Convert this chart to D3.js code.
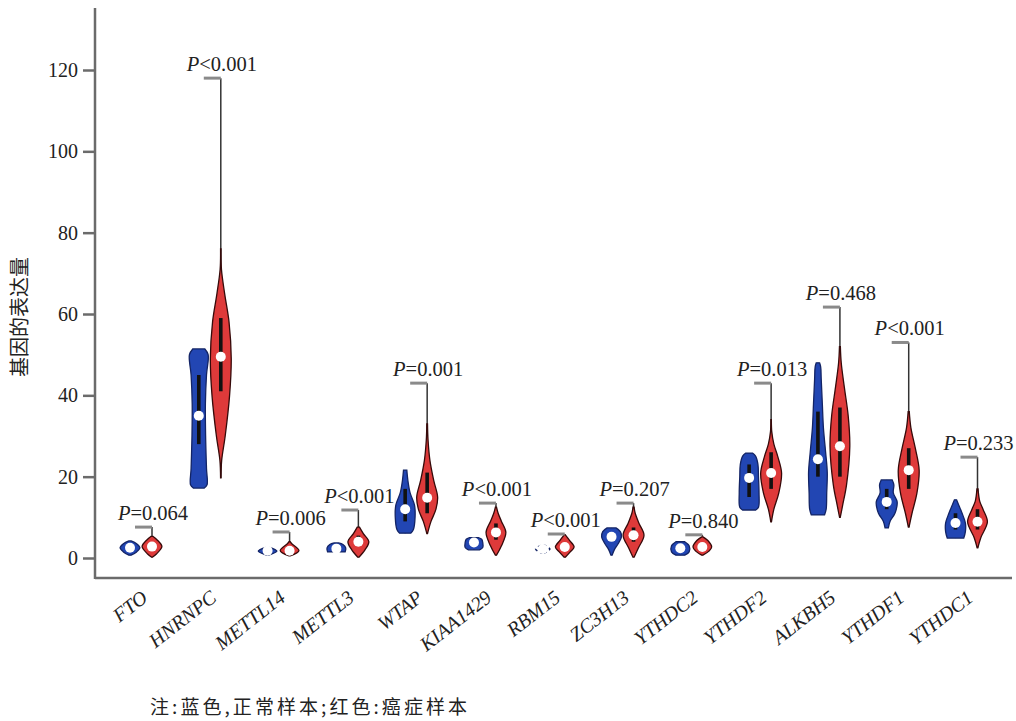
<!DOCTYPE html>
<meta charset="utf-8">
<style>
body { margin: 0; background: #fff; }
.tick text { font-family: "Liberation Serif", serif; font-size: 20px; fill: #222; }
.tick line { stroke: #6b6b6b; stroke-width: 2.5px; }
.gene { font-family: "Liberation Serif", serif; font-style: italic; font-size: 20px; fill: #222; }
.plab { font-family: "Liberation Serif", serif; font-size: 20.5px; fill: #222; }
</style>
<svg width="1016" height="721"></svg>
<script src="https://d3js.org/d3.v7.min.js"></script>
<script>
// genes along the x axis
var genes = ["FTO", "HNRNPC", "METTL14", "METTL3", "WTAP", "KIAA1429", "RBM15",
             "ZC3H13", "YTHDC2", "YTHDF2", "ALKBH5", "YTHDF1", "YTHDC1"];

// P value labels
var pOps    = ["=", "<", "=", "<", "=", "<", "<", "=", "=", "=", "=", "<", "="];
var pValues = ["0.064", "0.001", "0.006", "0.001", "0.001", "0.001", "0.001",
               "0.207", "0.840", "0.013", "0.468", "0.001", "0.233"];

// top of the cancer whisker (where the grey mark sits)
var redMax = [7.6, 118, 6.4, 11.8, 43, 13.5, 5.9, 13.5, 5.7, 43, 61.7, 53, 24.8];

// medians and quartiles: normal (blue) and cancer (red)
var blueMedian = [2.5, 35, 1.8, 2.3, 12, 3.8, 2.2, 5.2, 2.4, 19.7, 24.3, 13.8, 8.6];
var blueQ1     = [2.2, 28, 1.6, 2.1, 9, 3.5, 2, 4.8, 2.2, 15, 20, 12, 7];
var blueQ3     = [2.8, 45, 2, 2.6, 17, 4.2, 2.4, 5.8, 2.6, 23, 36, 17, 11];
var redMedian  = [2.8, 49.5, 1.8, 4, 14.8, 6.3, 2.7, 5.6, 2.7, 20.9, 27.5, 21.6, 8.9];
var redQ1      = [2, 41, 1.4, 3, 11, 4.5, 2, 4, 2, 17, 20, 17, 7];
var redQ3      = [3.8, 59, 2.4, 5.5, 21, 8.5, 3.5, 7.5, 3.5, 26, 37, 27, 12];

// violin outlines: [value, relative half width], bottom to top
var blueShapes = [
  [[0.7,0.1],[1.5,0.6],[2.5,0.9],[3.5,0.6],[4.2,0.1]],
  [[17.2,0.5],[18,0.75],[22,0.7],[30,0.62],[38,0.6],[45,0.7],[50,0.85],[51.4,0.55]],
  [[0.7,0.1],[1.7,0.85],[2.7,0.1]],
  [[1.5,0.8],[2.5,0.85],[3.3,0.6],[3.7,0.2]],
  [[6.1,0.5],[7,0.75],[10,0.9],[13,0.85],[16,0.45],[19,0.25],[21.6,0.15]],
  [[2,0.5],[2.6,0.8],[3.8,0.8],[4.6,0.7],[5,0.4]],
  [[1.2,0.1],[2.2,0.65],[3.2,0.1]],
  [[0.7,0.05],[2,0.25],[3.5,0.6],[5.2,0.9],[6.5,0.8],[7.4,0.4]],
  [[0.7,0.4],[1.5,0.8],[3,0.8],[4,0.4]],
  [[11.8,0.6],[12.5,0.85],[16,0.9],[20,0.85],[23,0.8],[25,0.6],[25.8,0.3]],
  [[10.6,0.6],[12,0.75],[16,0.8],[21,0.85],[26,0.7],[32,0.5],[38,0.4],[44,0.3],[47,0.25],[48,0.15]],
  [[7.4,0.15],[9,0.3],[11,0.75],[13.8,0.95],[16,0.6],[18,0.65],[19.2,0.5]],
  [[4.9,0.75],[6.5,0.9],[8.6,0.9],[11,0.6],[13,0.3],[14.3,0.1]]
];
var redShapes = [
  [[0.2,0.03],[1,0.4],[2.8,0.9],[4.5,0.45],[5.3,0.1]],
  [[19.7,0.02],[24,0.08],[30,0.4],[40,0.8],[49,0.95],[58,0.75],[65,0.35],[71,0.06],[76,0.02]],
  [[0.5,0.05],[1.8,0.85],[3.5,0.2],[4,0.05]],
  [[0.2,0.05],[2,0.6],[4,0.95],[6,0.45],[7.6,0.1]],
  [[6,0.03],[9,0.35],[12,0.8],[15,0.95],[19,0.6],[24,0.25],[29,0.08],[33,0.03]],
  [[0.7,0.05],[3,0.5],[6.3,0.9],[9,0.5],[11,0.2],[12.5,0.05]],
  [[0.2,0.05],[1.5,0.5],[2.7,0.85],[4.3,0.45],[5.7,0.05]],
  [[0.2,0.05],[2.5,0.45],[5.6,0.95],[8.5,0.5],[11,0.15],[12.5,0.05]],
  [[0.7,0.05],[1.7,0.6],[2.7,0.85],[4.3,0.5],[5.2,0.05]],
  [[8.9,0.03],[12,0.25],[16,0.7],[20.9,0.95],[25,0.6],[28,0.25],[31,0.06],[34,0.02]],
  [[10,0.03],[13,0.25],[18,0.6],[27.5,0.9],[35,0.75],[42,0.4],[48,0.12],[52,0.04]],
  [[7.6,0.03],[11,0.3],[16,0.75],[21.6,0.95],[27,0.6],[32,0.2],[36,0.05]],
  [[2.5,0.03],[5,0.3],[8.9,0.9],[12,0.5],[14,0.2],[17,0.05]]
];

var yTicks = [0, 20, 40, 60, 80, 100, 120];

var svg = d3.select("svg");
var axisX = 95, axisY = 578;

var y = d3.scaleLinear().domain([0, 120]).range([558, 70]);
var x = d3.scalePoint().domain(genes).range([141, 966.5]);
var w = d3.scaleLinear().domain([0, 1]).range([0, 11]);
var offset = 11;

// axes
var gy = svg.append("g")
    .attr("transform", "translate(" + axisX + ",0)")
    .call(d3.axisLeft(y).tickValues(yTicks).tickSize(12).tickPadding(5));
gy.select(".domain").remove();

svg.append("line")
    .attr("x1", axisX).attr("x2", axisX)
    .attr("y1", 8).attr("y2", axisY + 1)
    .attr("stroke", "#6b6b6b").attr("stroke-width", 2.5);
svg.append("line")
    .attr("x1", axisX).attr("x2", 1012)
    .attr("y1", axisY).attr("y2", axisY)
    .attr("stroke", "#6b6b6b").attr("stroke-width", 2.5);

svg.selectAll(".gene")
  .data(genes)
  .enter().append("text")
    .attr("class", "gene")
    .attr("text-anchor", "end")
    .attr("transform", function(d) { return "translate(" + (x(d) + 8) + ",600) rotate(-38)"; })
    .text(function(d) { return d; });

svg.append("text")
    .attr("transform", "translate(27,317) rotate(-90)")
    .attr("text-anchor", "middle")
    .style("font-family", "'Noto Sans CJK SC', sans-serif")
    .style("font-size", "20px")
    .attr("fill", "#222")
    .text("基因的表达量");

svg.append("text")
    .attr("x", 150).attr("y", 714)
    .attr("textLength", 317).attr("lengthAdjust", "spacing")
    .style("font-family", "'Noto Sans CJK SC', sans-serif")
    .style("font-size", "19px")
    .attr("fill", "#222")
    .text("注:蓝色,正常样本;红色:癌症样本");

var area = d3.area()
    .curve(d3.curveCatmullRom)
    .y(function(d) { return y(d[0]); });

function drawViolin(cx, shape, lo, hi, q1, q3, med, fill, stroke, dashed) {
  var g = svg.append("g");
  g.append("line")
      .attr("x1", cx).attr("x2", cx)
      .attr("y1", y(lo)).attr("y2", y(hi))
      .attr("stroke", "#333").attr("stroke-width", 1.5);
  area.x0(function(d) { return cx - w(d[1]); })
      .x1(function(d) { return cx + w(d[1]); });
  g.append("path")
      .datum(shape)
      .attr("d", area)
      .attr("fill", dashed ? "#fff" : fill)
      .attr("stroke", stroke)
      .attr("stroke-width", dashed ? 1.5 : 1.3)
      .attr("stroke-dasharray", dashed ? "3,3" : null);
  g.append("rect")
      .attr("x", cx - 1.8).attr("width", 3.6)
      .attr("y", y(q3)).attr("height", y(q1) - y(q3))
      .attr("fill", "#111");
  g.append("circle")
      .attr("cx", cx).attr("cy", y(med)).attr("r", 5)
      .attr("fill", "#fff");
}

genes.forEach(function(gene, i) {
  var bx = x(gene) - offset, rx = x(gene) + offset;
  var bs = blueShapes[i], rs = redShapes[i];
  drawViolin(bx, bs, bs[0][0], bs[bs.length - 1][0], blueQ1[i], blueQ3[i], blueMedian[i],
             "#2246b3", "#132465", gene == "RBM15");
  drawViolin(rx, rs, rs[0][0], redMax[i], redQ1[i], redQ3[i], redMedian[i],
             "#de3a3a", "#360a0a", false);

  // grey mark at the top of the cancer whisker
  svg.append("line")
      .attr("x1", rx - 17).attr("x2", rx)
      .attr("y1", y(redMax[i])).attr("y2", y(redMax[i]))
      .attr("stroke", "#8a8a8a").attr("stroke-width", 3);

  var t = svg.append("text")
      .attr("class", "plab")
      .attr("x", rx + 1).attr("y", y(redMax[i]) - 7)
      .attr("text-anchor", "middle");
  t.append("tspan").style("font-style", "italic").text("P");
  t.append("tspan").text(pOps[i] + pValues[i]);
});
</script>
